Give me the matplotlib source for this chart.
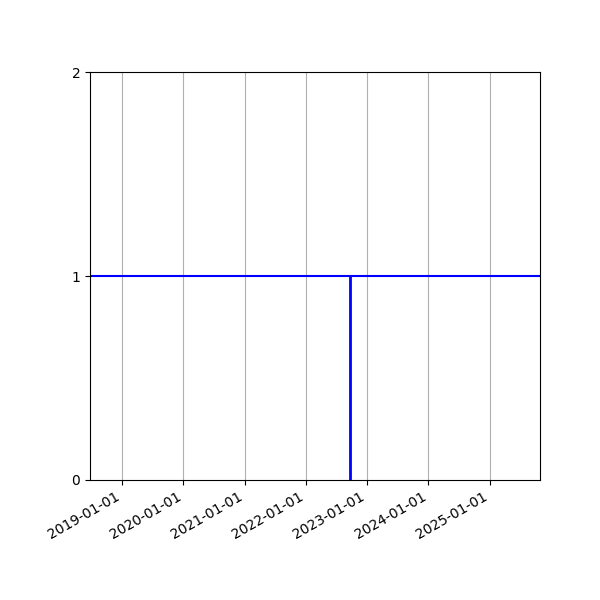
import numpy as np
import pandas as pd
import matplotlib
matplotlib.use('Agg')
import matplotlib.pyplot as plt
import matplotlib.dates as mdates

# Window shown and the single event date
start_date = pd.Timestamp('2018-06-24')
end_date = pd.Timestamp('2025-10-27')
event_date = pd.Timestamp('2022-09-21')
level = 1
y_ticks = [0, 1, 2]

fig, ax = plt.subplots(figsize=(6, 6), dpi=100)
fig.subplots_adjust(left=0.15, right=0.9, top=0.88, bottom=0.2)

# Horizontal level line and the vertical marker at the event
ax.plot([start_date, end_date], [level, level], color='blue', linewidth=1.5)
ax.plot([event_date, event_date], [0, level], color='blue', linewidth=2)

ax.set_xlim(start_date, end_date)
ax.set_ylim(y_ticks[0], y_ticks[-1])
ax.set_yticks(y_ticks)

ax.xaxis.set_major_locator(mdates.YearLocator())
ax.xaxis.set_major_formatter(mdates.DateFormatter('%Y-%m-%d'))
ax.grid(axis='x', color='#b0b0b0')
fig.autofmt_xdate()
fig.subplots_adjust(left=0.15, right=0.9, top=0.88, bottom=0.2)

plt.savefig('out.png')
